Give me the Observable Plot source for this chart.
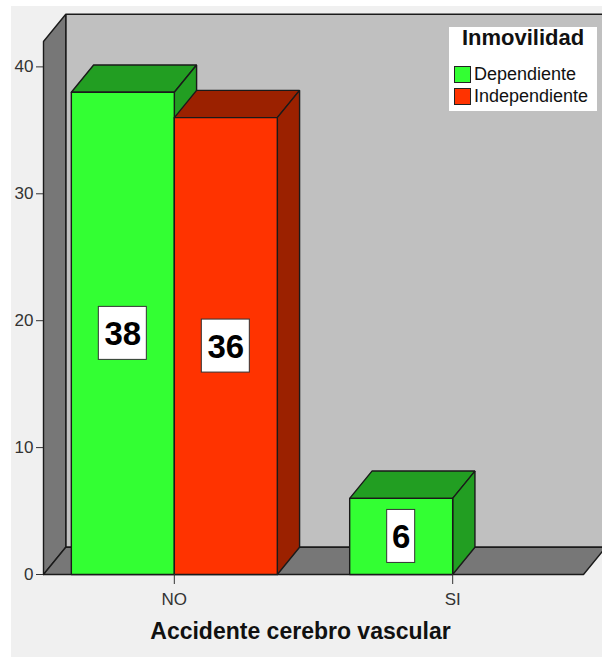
<!DOCTYPE html>
<html>
<head>
<meta charset="utf-8">
<script src="https://cdn.jsdelivr.net/npm/d3@7"></script>
<script src="https://cdn.jsdelivr.net/npm/@observablehq/plot@0.6"></script>
<style>
  html, body { margin: 0; padding: 0; background: #fff; }
  #wrap { position: relative; width: 602px; height: 657px; background: #fff; overflow: hidden; }
  #chart { position: absolute; left: 11px; top: 6px; }
  #legend { position: absolute; left: 449px; top: 27px; width: 148px; height: 84px; background: #fff;
            font-family: "Liberation Sans", Arial, sans-serif; color: #111; }
  #legend .lt { position: absolute; left: 0; top: 0; width: 100%; height: 21px; line-height: 21px;
                text-align: center; font-weight: bold; font-size: 22px; }
  #legend .item { position: absolute; left: 5px; height: 22px; display: flex; align-items: center; font-size: 18px; }
  #legend .sw { display: inline-block; width: 15px; height: 15px; border: 1.5px solid #222; margin-right: 3px; }
</style>
</head>
<body>
<div id="wrap"><div id="chart"></div><div id="legend"></div></div>
<script>
// ---- data ----
const categories = ["NO", "SI"];
const series = ["Dependiente", "Independiente"];
const dependiente = [38, 6];
const independiente = [36, 0];
const yTicks = [0, 10, 20, 30, 40];
const xTitle = "Accidente cerebro vascular";
const legendTitle = "Inmovilidad";

// ---- styling ----
const frontColor = {Dependiente: "#33ff33", Independiente: "#ff3300"};
const shadeColor = {Dependiente: "#229e22", Independiente: "#9b2100"};
const BW = 0.37;           // bar width (x units)
const DX = 0.08, DY = 2.15; // 3D depth offset
const X0 = -0.47, X1 = 1.47, YMAX = 42;

const bars = [];
categories.forEach((c, i) => {
  [dependiente[i], independiente[i]].forEach((v, j) => {
    const a = i - BW + j * BW, b = a + BW;
    bars.push({cat: c, series: series[j], value: v, a, b});
  });
});

const faces = [];
faces.push({fill: "#c0c0c0", pts: [[X0 + DX, DY], [X1 + DX, DY], [X1 + DX, YMAX + DY], [X0 + DX, YMAX + DY]]});
faces.push({fill: "#777777", pts: [[X0, 0], [X0, YMAX], [X0 + DX, YMAX + DY], [X0 + DX, DY]]});
faces.push({fill: "#777777", pts: [[X0, 0], [X1, 0], [X1 + DX, DY], [X0 + DX, DY]]});
bars.filter(d => d.value > 0).forEach(d => {
  const {a, b, value: v} = d;
  faces.push({fill: shadeColor[d.series], pts: [[a, v], [b, v], [b + DX, v + DY], [a + DX, v + DY]]});
  faces.push({fill: shadeColor[d.series], pts: [[b, 0], [b, v], [b + DX, v + DY], [b + DX, DY]]});
  faces.push({fill: frontColor[d.series], pts: [[a, 0], [b, 0], [b, v], [a, v]]});
});
const rows = [];
faces.forEach((f, k) => {
  [...f.pts, f.pts[0]].forEach(([x, y]) => rows.push({id: k, x, y, fill: f.fill}));
});

const labels = bars.filter(d => d.value > 0).map(d => ({x: (d.a + d.b) / 2, y: d.value / 2, text: String(d.value)}));

const boxMark = (data, hw) => Plot.rect(data, {
  x1: "x", x2: "x", y1: "y", y2: "y",
  insetLeft: -hw, insetRight: -hw, insetTop: -26.5, insetBottom: -26.5,
  fill: "white", stroke: "#333", strokeWidth: 1
});

const chart = Plot.plot({
  width: 591, height: 651,
  marginLeft: 32, marginRight: 19, marginTop: 35, marginBottom: 83,
  x: {domain: [X0, X1], axis: null},
  y: {domain: [0, YMAX], axis: null},
  color: {type: "identity"},
  style: {background: "#f0f0f0", fontFamily: "Liberation Sans, Arial, sans-serif", overflow: "visible"},
  marks: [
    Plot.line(rows, {x: "x", y: "y", z: "id", fill: "fill", stroke: "#1a1a1a", strokeWidth: 1.4, strokeLinejoin: "miter"}),
    Plot.axisY({ticks: yTicks, tickSize: 7, tickPadding: 3, fontSize: 17, color: "#333", label: null}),
    Plot.axisX({ticks: [0, 1], tickFormat: i => categories[i], tickSize: 10, tickPadding: 8, fontSize: 17, color: "#333", label: null}),
    boxMark(labels.filter(d => d.text.length === 2), 24),
    boxMark(labels.filter(d => d.text.length === 1), 14),
    Plot.text(labels, {x: "x", y: "y", text: "text", fontSize: 33, fontWeight: "bold", fill: "#000", dy: 1}),
    Plot.text([xTitle], {frameAnchor: "bottom", text: d => d, dy: 64, dx: -13, fontSize: 23, fontWeight: "bold", fill: "#111"})
  ]
});
document.getElementById("chart").appendChild(chart);

// legend
const lg = document.getElementById("legend");
const t = document.createElement("div"); t.className = "lt"; t.textContent = legendTitle; lg.appendChild(t);
series.forEach((s, i) => {
  const it = document.createElement("div"); it.className = "item"; it.style.top = (36 + i * 22) + "px";
  const sw = document.createElement("span"); sw.className = "sw"; sw.style.background = frontColor[s];
  it.appendChild(sw); it.appendChild(document.createTextNode(s)); lg.appendChild(it);
});
</script>
</body>
</html>
